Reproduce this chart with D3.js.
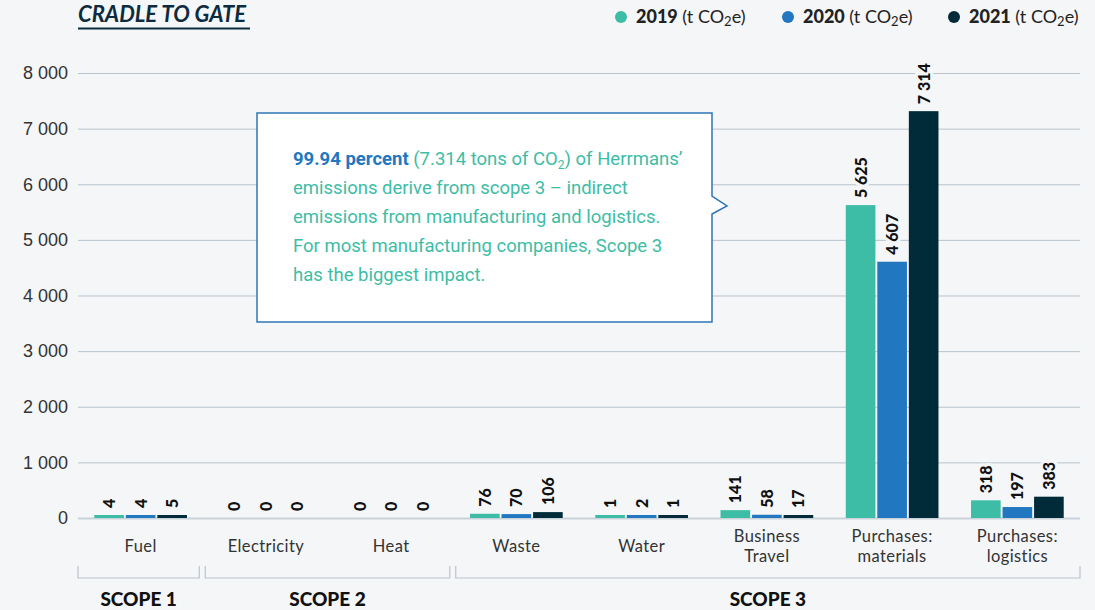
<!DOCTYPE html>
<html>
<head>
<meta charset="utf-8">
<script src="https://cdn.jsdelivr.net/npm/d3@7"></script>
<style>
  body { margin: 0; background: #f4f6f8; }
  svg { display: block; font-family: Lato, "Open Sans", sans-serif; }
  .grid line { stroke: #b9c4cc; stroke-width: 1; }
  .grid path { display: none; }
  .tick text { fill: #333; font-size: 18px; }
  .callout text { font-family: Roboto, sans-serif; font-size: 18.5px; fill: #3dbda5; }
</style>
</head>
<body>
<svg width="1095" height="610"></svg>
<script>
"use strict";

var categories = ["Fuel", "Electricity", "Heat", "Waste", "Water", "Business Travel", "Purchases: materials", "Purchases: logistics"];
var categoryLines = [["Fuel"], ["Electricity"], ["Heat"], ["Waste"], ["Water"], ["Business", "Travel"], ["Purchases:", "materials"], ["Purchases:", "logistics"]];
var years = ["2019", "2020", "2021"];
var values2019 = [4, 0, 0, 76, 1, 141, 5625, 318];
var values2020 = [4, 0, 0, 70, 2, 58, 4607, 197];
var values2021 = [5, 0, 0, 106, 1, 17, 7314, 383];
var yTicks = [0, 1000, 2000, 3000, 4000, 5000, 6000, 7000, 8000];
var scopes = [
  {name: "SCOPE 1", from: "Fuel", to: "Fuel"},
  {name: "SCOPE 2", from: "Electricity", to: "Heat"},
  {name: "SCOPE 3", from: "Waste", to: "Purchases: logistics"}
];
var colours = ["#3dbda5", "#2177c0", "#022b3a"];
var calloutLines = [
  [{t: "99.94 percent", b: true}, {t: " (7.314 tons of CO"}, {t: "2", sub: true}, {t: ") of Herrmans’", up: true}],
  [{t: "emissions derive from scope 3 – indirect"}],
  [{t: "emissions from manufacturing and logistics."}],
  [{t: "For most manufacturing companies, Scope 3"}],
  [{t: "has the biggest impact."}]
];

var series = [values2019, values2020, values2021];
var svg = d3.select("svg");
var bg = "#f4f6f8";
var plotLeft = 78, plotRight = 1080, plotTop = 73, plotBottom = 518;

var x = d3.scaleBand().domain(categories).range([plotLeft, plotRight]).paddingInner(0.26).paddingOuter(0.13);
var x1 = d3.scaleBand().domain(years).range([0, x.bandwidth()]).paddingInner(0.06);
var y = d3.scaleLinear().domain([0, 8000]).range([plotBottom, plotTop]);
var fmt = function(v) { return d3.format(",")(v).replace(/,/g, " "); };

// grid + y labels
var grid = svg.append("g").attr("class", "grid")
  .attr("transform", "translate(" + plotRight + ",0)")
  .call(d3.axisLeft(y).tickValues(yTicks).tickSize(plotRight - plotLeft).tickFormat(fmt));
grid.selectAll(".tick text").attr("x", -(plotRight - plotLeft) - 10);
grid.selectAll(".tick").filter(function(d) { return d === 0; }).select("line")
  .style("stroke", "#c9d2da").style("stroke-width", 2);

// bars
var groups = svg.append("g").selectAll("g").data(categories).enter().append("g")
  .attr("transform", function(d) { return "translate(" + x(d) + ",0)"; });

groups.each(function(cat, ci) {
  var g = d3.select(this);
  years.forEach(function(yr, si) {
    var v = series[si][ci];
    var h = v > 0 ? Math.max(plotBottom - y(v), 3) : 0;
    g.append("rect")
      .attr("x", x1(yr)).attr("width", x1.bandwidth())
      .attr("y", plotBottom - h).attr("height", h)
      .attr("fill", colours[si]);
    var lx = x1(yr) + x1.bandwidth() / 2, ly = plotBottom - h - 7;
    g.append("text")
      .attr("transform", "translate(" + (lx + 6) + "," + ly + ") rotate(-90)")
      .attr("text-anchor", "start")
      .attr("font-size", 16).attr("font-weight", 900).attr("fill", "#111")
      .attr("stroke", bg).attr("stroke-width", 6).attr("paint-order", "stroke")
      .text(fmt(v));
  });
});

// category labels
svg.append("g").selectAll("text").data(categories).enter().append("text")
  .attr("y", function(d, i) { return categoryLines[i].length > 1 ? 542 : 552; })
  .attr("text-anchor", "middle").attr("font-size", 16.5).attr("letter-spacing", 0.4).attr("fill", "#333")
  .each(function(d, i) {
    var t = d3.select(this);
    categoryLines[i].forEach(function(line, j) {
      t.append("tspan").attr("x", x(d) + x.bandwidth() / 2).attr("dy", j ? 20 : 0).text(line);
    });
  });

// scope brackets
var gap = x.step() * x.paddingInner() / 2;
var sg = svg.append("g");
scopes.forEach(function(s, i) {
  var x0 = i === 0 ? plotLeft : x(s.from) - gap + 2;
  var xEnd = i === scopes.length - 1 ? plotRight : x(s.to) + x.bandwidth() + gap - 4;
  sg.append("path")
    .attr("d", "M" + x0 + ",566V578H" + xEnd + "V566")
    .attr("fill", "none").attr("stroke", "#b9c4cc").attr("stroke-width", 1.2);
  sg.append("text").attr("x", (x0 + xEnd) / 2).attr("y", 606)
    .attr("text-anchor", "middle").attr("font-size", 19).attr("font-weight", 900)
    .attr("fill", "#111").text(s.name);
});

// title
svg.append("text").attr("x", 78).attr("y", 22)
  .attr("font-size", 22).attr("font-weight", 700).attr("font-style", "italic")
  .attr("fill", "#0d2b3e").text("CRADLE TO GATE");
svg.append("line").attr("x1", 78).attr("x2", 250).attr("y1", 28.5).attr("y2", 28.5)
  .attr("stroke", "#0d2b3e").attr("stroke-width", 2);

// legend
var legendX = [621, 788, 954];
var lg = svg.append("g");
years.forEach(function(yr, i) {
  lg.append("circle").attr("cx", legendX[i]).attr("cy", 17).attr("r", 6).attr("fill", colours[i]);
  var t = lg.append("text").attr("x", legendX[i] + 15).attr("y", 23).attr("font-size", 18).attr("fill", "#222");
  t.append("tspan").attr("font-weight", 900).text(yr);
  t.append("tspan").text(" (t CO");
  t.append("tspan").attr("font-size", 13).attr("dy", 3).text("2");
  t.append("tspan").attr("dy", -3).text("e)");
});

// callout
var cg = svg.append("g").attr("class", "callout");
cg.append("path")
  .attr("d", "M257,113H712V196L727,206L712,214V322H257Z")
  .attr("fill", "#fff").attr("stroke", "#2e75b6").attr("stroke-width", 1.5);
calloutLines.forEach(function(parts, i) {
  var t = cg.append("text").attr("x", 293).attr("y", 165 + i * 29);
  parts.forEach(function(p) {
    var s = t.append("tspan").text(p.t);
    if (p.b) s.attr("font-weight", 700).style("fill", "#2177c0");
    if (p.sub) s.attr("font-size", 12).attr("dy", 4);
    if (p.up) s.attr("dy", -4);
  });
});
</script>
</body>
</html>
